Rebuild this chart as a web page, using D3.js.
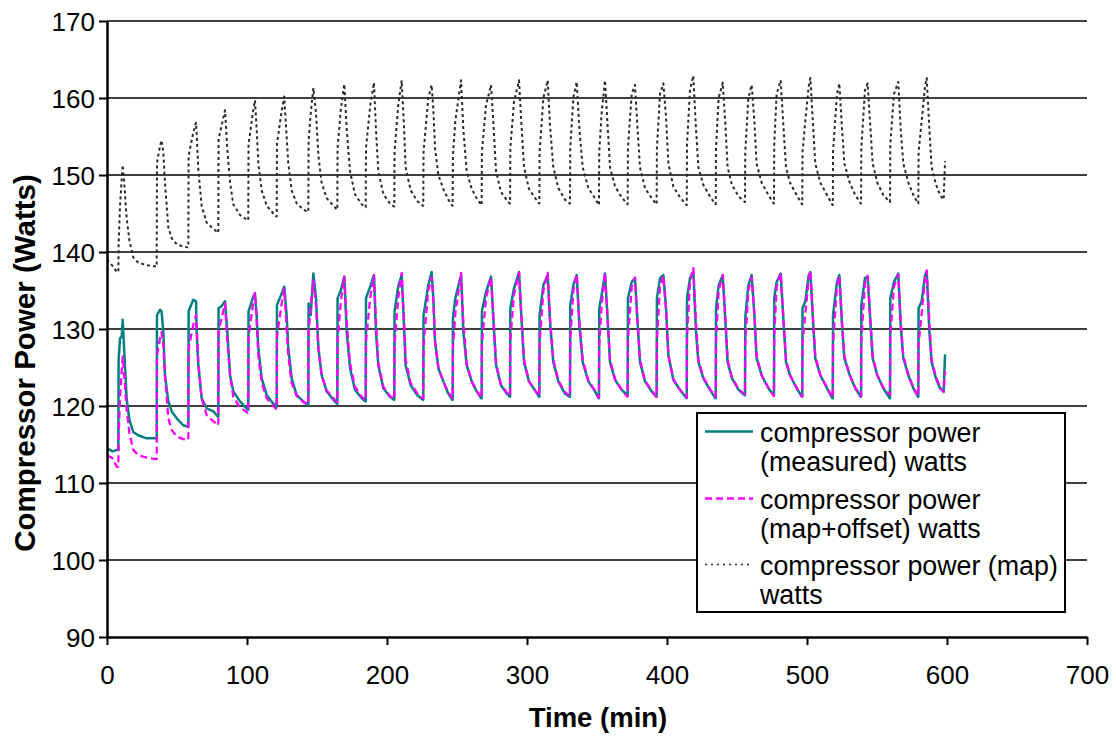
<!DOCTYPE html>
<html>
<head>
<meta charset="utf-8">
<script src="https://cdn.jsdelivr.net/npm/d3@7/dist/d3.min.js"></script>
<style>
  html, body { margin: 0; padding: 0; background: #fff; }
  svg { display: block; }
  text { font-family: "Liberation Sans", Arial, sans-serif; fill: #000; }
</style>
</head>
<body>
<svg id="chart" width="1116" height="736"></svg>
<script>
// ---- data ----
const timeMin = [
  0, 4, 7,
  8.1, 8.3, 9.3, 10.5, 11.2, 12.1, 14.0, 16.0, 18.8, 22.4, 28.3, 35.3,
  35.5, 35.7, 37.9, 39.0, 40.2, 41.4, 43.8, 46.2, 49.8, 54.5, 57.9,
  58.1, 58.3, 61.6, 63.6, 64.0, 65.2, 67.6, 71.2, 76.0, 79.3,
  79.5, 79.7, 82.0, 84.3, 85.9, 87.9, 90.2, 95.0, 100.7,
  100.9, 101.1, 104.5, 105.7, 106.9, 108.1, 110.5, 114.1, 118.8, 121.0,
  121.2, 121.4, 124.5, 126.6, 128.3, 129.5, 131.9, 135.5, 140.2, 143.6,
  143.8, 144.0, 145.5, 147.4, 149.3, 151.0, 153.3, 156.9, 161.7, 164.3,
  164.5, 164.7, 167.0, 169.5, 171.2, 173.6, 177.1, 181.9, 184.6,
  184.8, 185.0, 188.0, 190.7, 192.1, 193.8, 197.4, 202.1, 205.0,
  205.2, 205.4, 208.0, 210.5, 212.1, 213.3, 216.9, 221.7, 225.7,
  225.9, 226.1, 229.5, 231.9, 233.1, 234.3, 236.7, 240.2, 243.8, 246.6,
  246.9, 247.1, 248.8, 252.9, 254.5, 256.9, 260.5, 264.0, 267.3,
  267.6, 267.8, 270.7, 274.3, 276.2, 277.9, 281.4, 285.7, 287.7,
  287.9, 288.1, 290.7, 294.3, 295.9, 297.9, 301.4, 306.2, 308.6,
  308.8, 309.0, 311.7, 314.8, 316.4, 318.8, 322.4, 327.1, 330.4,
  330.7, 330.9, 333.1, 335.5, 337.4, 339.8, 343.8, 348.6, 351.2,
  351.4, 351.6, 353.3, 355.7, 357.4, 359.3, 362.9, 367.6, 371.7,
  371.9, 372.1, 374.8, 377.1, 378.8, 380.7, 384.3, 389.0, 392.4,
  392.6, 392.8, 395.0, 397.4, 399.3, 401.0, 404.5, 409.3, 413.9,
  414.1, 414.3, 416.4, 418.8, 420.7, 422.4, 426.0, 430.7, 434.6,
  434.8, 435.0, 436.9, 439.8, 441.7, 443.3, 446.4, 451.2, 455.5,
  455.7, 455.9, 458.1, 460.5, 462.4, 464.0, 467.6, 472.4, 476.2,
  476.4, 476.6, 478.3, 481.2, 483.1, 485.0, 487.9, 492.6, 496.4,
  496.6, 496.8, 498.8, 501.2, 502.4, 504.3, 505.9, 509.5, 514.3, 518.2,
  518.4, 518.6, 521.4, 523.1, 525.0, 526.7, 530.5, 534.5, 538.4,
  538.6, 538.8, 541.4, 543.3, 545.0, 546.9, 550.2, 554.5, 559.1,
  559.3, 559.5, 562.1, 565.2, 566.9, 568.8, 572.4, 576.0, 579.3,
  579.5, 579.7, 581.9, 584.3, 585.5, 587.4, 589.0, 592.1, 595.0, 597.6,
  598.6
];

const measuredWatts = [
  114.5, 114.1, 114.3,
  114.3, 126.0, 128.8, 129.0, 131.2, 127.9, 121.0, 118.2, 116.6, 116.2, 115.8, 115.8,
  115.8, 131.8, 132.5, 132.3, 129.7, 124.0, 120.6, 119.3, 118.4, 117.5, 117.3,
  117.3, 132.3, 133.8, 133.6, 129.7, 125.3, 121.0, 119.7, 119.3, 118.6,
  118.6, 132.7, 133.0, 133.6, 129.7, 124.0, 121.9, 120.6, 119.5,
  119.5, 132.3, 134.2, 134.6, 131.8, 127.5, 123.6, 121.4, 120.3, 119.9,
  119.9, 133.1, 134.5, 135.5, 131.8, 127.5, 123.6, 121.4, 120.6, 120.1,
  120.1, 133.3, 131.8, 137.2, 134.0, 127.5, 124.0, 121.9, 120.8, 120.3,
  120.3, 134.0, 135.0, 136.8, 129.7, 124.9, 122.1, 121.0, 120.6,
  120.6, 134.0, 135.5, 137.0, 129.7, 125.3, 122.3, 121.2, 120.8,
  120.8, 132.3, 135.5, 137.0, 130.5, 125.3, 122.7, 121.4, 120.8,
  120.8, 131.8, 135.7, 137.4, 134.0, 128.4, 124.9, 123.2, 121.6, 120.8,
  120.8, 131.4, 134.0, 137.0, 129.7, 125.3, 123.2, 121.9, 121.0,
  121.0, 132.3, 134.8, 136.8, 130.5, 125.3, 122.7, 121.6, 121.2,
  121.2, 132.7, 135.3, 137.4, 131.8, 125.7, 123.2, 121.9, 121.2,
  121.2, 131.8, 135.7, 137.0, 131.0, 125.7, 123.2, 121.6, 121.2,
  121.2, 133.1, 135.7, 137.0, 130.5, 125.7, 123.2, 121.9, 121.0,
  121.0, 132.7, 134.4, 137.2, 131.8, 125.7, 123.4, 122.1, 121.4,
  121.4, 134.0, 136.1, 136.6, 131.4, 125.7, 123.2, 121.9, 121.2,
  121.2, 134.0, 136.6, 137.0, 132.7, 126.6, 123.4, 122.1, 121.0,
  121.0, 134.0, 136.6, 137.4, 129.7, 125.7, 123.6, 122.1, 121.0,
  121.0, 132.7, 135.7, 137.0, 131.0, 125.7, 123.6, 122.1, 121.4,
  121.4, 131.4, 135.7, 137.0, 131.8, 126.2, 124.0, 122.3, 121.4,
  121.4, 134.0, 136.1, 137.2, 131.4, 125.7, 124.0, 122.3, 121.2,
  121.2, 132.7, 133.6, 137.0, 137.4, 131.0, 126.2, 124.0, 122.3, 121.0,
  121.0, 131.8, 136.1, 137.0, 130.5, 126.2, 124.0, 122.3, 121.2,
  121.2, 133.1, 136.6, 136.8, 131.8, 126.2, 124.0, 122.3, 121.0,
  121.0, 134.0, 136.1, 137.2, 130.5, 126.2, 124.0, 122.3, 121.2,
  121.2, 132.7, 133.6, 137.0, 137.5, 129.7, 125.7, 123.6, 122.3, 121.9,
  126.7
];

const mapOffsetWatts = [
  113.6, 113.2, 112.1,
  112.1, 116.0, 121.0, 124.5, 126.4, 124.5, 119.5, 116.5, 114.3, 113.6, 113.3, 113.1,
  113.1, 126.6, 128.8, 129.6, 128.0, 124.0, 118.4, 116.9, 116.0, 115.7, 115.6,
  115.6, 127.5, 130.5, 131.8, 130.5, 125.8, 121.0, 118.8, 118.0, 117.5,
  117.5, 129.7, 131.5, 133.3, 128.5, 124.0, 121.2, 119.8, 119.1,
  119.1, 129.0, 133.5, 134.7, 131.0, 126.5, 123.0, 121.0, 120.0, 119.6,
  119.6, 129.0, 133.0, 135.2, 130.0, 126.5, 123.0, 121.3, 120.5, 120.2,
  120.2, 129.5, 133.0, 136.3, 133.0, 127.5, 124.0, 122.0, 121.0, 120.5,
  120.5, 128.5, 133.5, 136.8, 131.0, 125.5, 122.5, 121.2, 120.8,
  120.8, 128.5, 134.0, 137.0, 131.0, 125.5, 122.5, 121.3, 120.9,
  120.9, 128.0, 134.0, 137.3, 131.5, 126.0, 123.0, 121.6, 121.0,
  121.0, 128.0, 135.0, 136.7, 133.5, 128.5, 125.0, 123.2, 121.8, 121.0,
  121.0, 127.5, 132.0, 137.3, 131.0, 125.5, 123.2, 122.0, 121.1,
  121.1, 128.0, 134.0, 136.7, 131.0, 125.5, 122.8, 121.7, 121.3,
  121.3, 128.5, 134.5, 137.3, 132.0, 126.0, 123.2, 121.9, 121.3,
  121.3, 128.0, 135.0, 137.3, 131.5, 126.0, 123.3, 121.8, 121.3,
  121.3, 128.5, 135.0, 137.1, 131.0, 126.0, 123.3, 122.0, 121.1,
  121.1, 128.0, 133.0, 137.3, 132.0, 126.0, 123.5, 122.1, 121.2,
  121.2, 128.5, 135.5, 136.7, 131.5, 126.0, 123.3, 122.0, 121.2,
  121.2, 128.5, 135.5, 136.9, 132.5, 126.5, 123.5, 122.1, 121.1,
  121.1, 129.0, 136.0, 137.9, 131.0, 126.0, 123.7, 122.2, 121.2,
  121.2, 128.5, 135.0, 137.0, 131.5, 126.0, 123.7, 122.2, 121.5,
  121.5, 128.0, 135.0, 136.7, 132.0, 126.5, 124.0, 122.4, 121.3,
  121.3, 129.0, 135.5, 137.3, 131.5, 126.0, 124.0, 122.4, 121.2,
  121.2, 128.0, 132.0, 136.5, 137.6, 131.5, 126.5, 124.0, 122.4, 121.1,
  121.1, 128.0, 135.5, 136.9, 131.0, 126.5, 124.0, 122.4, 121.3,
  121.3, 128.5, 136.0, 136.9, 132.0, 126.5, 124.0, 122.4, 121.5,
  121.5, 129.0, 135.5, 137.1, 131.0, 126.5, 124.0, 122.4, 121.3,
  121.3, 128.0, 132.0, 136.5, 137.6, 131.0, 126.0, 123.8, 122.4, 121.8,
  124.5
];

const mapWatts = [
  139.0, 138.2, 137.4,
  137.4, 141.0, 146.0, 149.5, 151.3, 149.5, 144.5, 141.5, 139.3, 138.6, 138.3, 138.1,
  138.1, 151.6, 153.8, 154.5, 153.0, 149.0, 143.2, 141.8, 141.0, 140.7, 140.6,
  140.6, 152.5, 155.5, 156.8, 155.5, 150.8, 146.0, 143.8, 143.0, 142.5,
  142.5, 154.7, 156.5, 158.4, 153.5, 149.0, 146.2, 144.8, 144.1,
  144.1, 154.0, 158.5, 159.7, 156.0, 151.5, 148.0, 146.0, 145.0, 144.6,
  144.6, 154.0, 158.0, 160.2, 155.0, 151.5, 148.0, 146.3, 145.5, 145.2,
  145.2, 154.5, 158.0, 161.3, 158.0, 152.5, 149.0, 147.0, 146.0, 145.5,
  145.5, 153.5, 158.5, 161.8, 156.0, 150.5, 147.5, 146.2, 145.8,
  145.8, 153.5, 159.0, 162.0, 156.0, 150.5, 147.5, 146.3, 145.9,
  145.9, 153.0, 159.0, 162.3, 156.5, 151.0, 148.0, 146.6, 146.0,
  146.0, 153.0, 160.0, 161.7, 158.5, 153.5, 150.0, 148.2, 146.8, 146.0,
  146.0, 152.5, 157.0, 162.3, 156.0, 150.5, 148.2, 147.0, 146.1,
  146.1, 153.0, 159.0, 161.7, 156.0, 150.5, 147.8, 146.7, 146.3,
  146.3, 153.5, 159.5, 162.3, 157.0, 151.0, 148.2, 146.9, 146.3,
  146.3, 153.0, 160.0, 162.3, 156.5, 151.0, 148.3, 146.8, 146.3,
  146.3, 153.5, 160.0, 162.1, 156.0, 151.0, 148.3, 147.0, 146.1,
  146.1, 153.0, 158.0, 162.3, 157.0, 151.0, 148.5, 147.1, 146.2,
  146.2, 153.5, 160.5, 161.7, 156.5, 151.0, 148.3, 147.0, 146.2,
  146.2, 153.5, 160.5, 161.9, 157.5, 151.5, 148.5, 147.1, 146.1,
  146.1, 154.0, 161.0, 162.9, 156.0, 151.0, 148.7, 147.2, 146.2,
  146.2, 153.5, 160.0, 162.0, 156.5, 151.0, 148.7, 147.2, 146.5,
  146.5, 153.0, 160.0, 161.7, 157.0, 151.5, 149.0, 147.4, 146.3,
  146.3, 154.0, 160.5, 162.3, 156.5, 151.0, 149.0, 147.4, 146.2,
  146.2, 153.0, 157.0, 161.5, 162.6, 156.5, 151.5, 149.0, 147.4, 146.1,
  146.1, 153.0, 160.5, 161.9, 156.0, 151.5, 149.0, 147.4, 146.3,
  146.3, 153.5, 161.0, 161.9, 157.0, 151.5, 149.0, 147.4, 146.5,
  146.5, 154.0, 160.5, 162.1, 156.0, 151.5, 149.0, 147.4, 146.3,
  146.3, 153.0, 157.0, 161.5, 162.6, 156.0, 151.0, 148.8, 147.4, 146.8,
  151.8
];

const xTicks = [0, 100, 200, 300, 400, 500, 600, 700];
const yTicks = [90, 100, 110, 120, 130, 140, 150, 160, 170];
const seriesNames = [
  ["compressor power", "(measured) watts"],
  ["compressor power", "(map+offset) watts"],
  ["compressor power (map)", "watts"]
];

// ---- drawing ----
const svg = d3.select("#chart");
svg.append("rect").attr("width", 1116).attr("height", 736).attr("fill", "#fff");

const x = d3.scaleLinear().domain([0, 700]).range([107, 1087]);
const y = d3.scaleLinear().domain([90, 170]).range([637, 21]);

// gridlines
svg.append("g").selectAll("line").data(yTicks.filter(d => d > 90)).join("line")
  .attr("x1", x(0)).attr("x2", x(700))
  .attr("y1", d => y(d)).attr("y2", d => y(d))
  .attr("stroke", "#000").attr("stroke-width", 1.6);

// series
const styles = [
  { vals: measuredWatts, color: "#008080", width: 2.5, dash: null },
  { vals: mapOffsetWatts, color: "#ff00ff", width: 2.3, dash: "7,4" },
  { vals: mapWatts, color: "#2a2a2a", width: 2, dash: "3,3" }
];
const line = d3.line().x(d => x(d[0])).y(d => y(d[1]));

[styles[2], styles[0], styles[1]].forEach(s => {
  const pts = timeMin.map((t, i) => [t, s.vals[i]]);
  svg.append("path").datum(pts)
    .attr("d", line)
    .attr("fill", "none")
    .attr("stroke", s.color)
    .attr("stroke-width", s.width)
    .attr("stroke-linejoin", "round")
    .attr("stroke-dasharray", s.dash);
});

// axes
const xAxis = d3.axisBottom(x).tickValues(xTicks).tickSize(8).tickSizeOuter(0).tickFormat(d3.format("d"));
const yAxis = d3.axisLeft(y).tickValues(yTicks).tickSize(8).tickSizeOuter(0).tickFormat(d3.format("d"));

const gx = svg.append("g").attr("transform", `translate(0,${y(90)})`).call(xAxis);
const gy = svg.append("g").attr("transform", `translate(${x(0)},0)`).call(yAxis);
[gx, gy].forEach(g => {
  g.select(".domain").attr("stroke", "#000").attr("stroke-width", 2.5);
  g.selectAll(".tick line").attr("stroke", "#000").attr("stroke-width", 2);
  g.selectAll(".tick text")
    .attr("font-family", "Liberation Sans, Arial, sans-serif")
    .attr("font-size", 26).attr("fill", "#000");
});
gx.selectAll(".tick text").attr("dy", null).attr("y", 47);
gy.selectAll(".tick text").attr("x", -12).attr("dy", "0.36em");

// axis titles
svg.append("text")
  .attr("x", 598).attr("y", 727)
  .attr("text-anchor", "middle")
  .attr("font-size", 27.5).attr("font-weight", "bold")
  .text("Time (min)");
svg.append("text")
  .attr("transform", "translate(35,363) rotate(-90)")
  .attr("text-anchor", "middle")
  .attr("font-size", 29.5).attr("font-weight", "bold")
  .text("Compressor Power (Watts)");

// legend
const lg = svg.append("g");
lg.append("rect").attr("x", 697).attr("y", 413).attr("width", 368).attr("height", 199)
  .attr("fill", "#fff").attr("stroke", "#000").attr("stroke-width", 2);
const legY = [431.5, 498.5, 564.5];
styles.forEach((s, i) => {
  lg.append("line").attr("x1", 705).attr("x2", 753)
    .attr("y1", legY[i]).attr("y2", legY[i])
    .attr("stroke", s.color).attr("stroke-width", i === 2 ? 1.5 : s.width)
    .attr("stroke-dasharray", i === 2 ? "2,4" : s.dash);
  const t = lg.append("text").attr("x", 760).attr("y", legY[i] + 10.5).attr("font-size", 26.8);
  seriesNames[i].forEach((ln, j) => {
    t.append("tspan").attr("x", 760).attr("dy", j === 0 ? 0 : 29).text(ln);
  });
});
</script>
</body>
</html>
